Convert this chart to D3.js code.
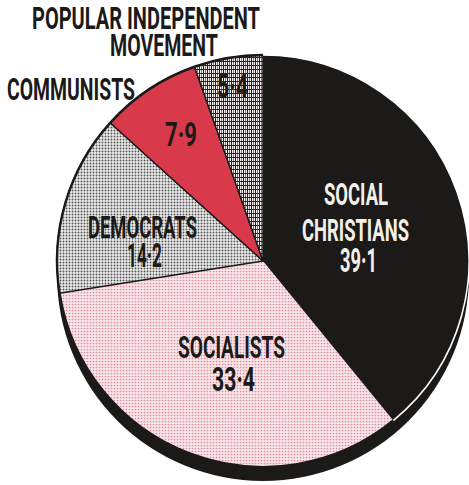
<!DOCTYPE html>
<html>
<head>
<meta charset="utf-8">
<script src="https://cdn.jsdelivr.net/npm/d3@7/dist/d3.min.js"></script>
<style>
  html, body { margin: 0; padding: 0; background: #ffffff; }
  svg { display: block; }
  text { font-family: "Roboto", "Liberation Sans Narrow", "DejaVu Sans Condensed", sans-serif; font-weight: 700; }
</style>
</head>
<body>
<svg id="chart" width="469" height="485"></svg>
<script>
// Vote shares by party (per cent)
const parties = ["SOCIAL CHRISTIANS", "SOCIALISTS", "DEMOCRATS", "COMMUNISTS", "POPULAR INDEPENDENT MOVEMENT"];
const shares = [39.1, 33.4, 14.2, 7.9, 5.4];

// How each party's name is broken into lines
const nameLines = [
  ["SOCIAL", "CHRISTIANS"],
  ["SOCIALISTS"],
  ["DEMOCRATS"],
  ["COMMUNISTS"],
  ["POPULAR INDEPENDENT", "MOVEMENT"]
];

// Slice fills and text colours
const fills = ["#1b1a18", "url(#pinkTone)", "url(#greyTone)", "#d83a4b", "url(#crossHatch)"];
const inkOnSlice = ["#f3f0ea", "#1b1a18", "#1b1a18", "#1b1a18", "#1b1a18"];

// Label placement: [left, right, baseline] for each line (names, then value)
const labelBoxes = [
  { name: [[324, 388, 205], [302, 409, 241]], value: [340, 377, 272], nameInside: true },
  { name: [[178, 285, 358]], value: [212, 255, 391], nameInside: true },
  { name: [[88, 197, 238]], value: [127, 162, 267], nameInside: true },
  { name: [[7, 135, 100]], value: [165, 197, 146], nameInside: false },
  { name: [[32, 260, 29], [110, 218, 56]], value: [217, 248, 98], nameInside: false }
];

const svg = d3.select("#chart");
const cx = 263, cy = 261, r = 206;
const nameSize = 31, valueSize = 33;

// Halftone and hatch textures
const defs = svg.append("defs");
const pink = defs.append("pattern").attr("id", "pinkTone")
  .attr("patternUnits", "userSpaceOnUse").attr("width", 3).attr("height", 3);
pink.append("rect").attr("width", 3).attr("height", 3).attr("fill", "#f8e6e9");
pink.append("circle").attr("cx", 1.5).attr("cy", 1.5).attr("r", 0.85).attr("fill", "#d88b9a");

const grey = defs.append("pattern").attr("id", "greyTone")
  .attr("patternUnits", "userSpaceOnUse").attr("width", 3).attr("height", 3);
grey.append("rect").attr("width", 3).attr("height", 3).attr("fill", "#ececec");
grey.append("circle").attr("cx", 1.5).attr("cy", 1.5).attr("r", 0.95).attr("fill", "#555555");

const hatch = defs.append("pattern").attr("id", "crossHatch")
  .attr("patternUnits", "userSpaceOnUse").attr("width", 4).attr("height", 4);
hatch.append("rect").attr("width", 4).attr("height", 4).attr("fill", "#f7f1f1");
hatch.append("rect").attr("x", 2).attr("y", 0).attr("width", 1).attr("height", 4).attr("fill", "#d8505f");
hatch.append("rect").attr("x", 0).attr("y", 0).attr("width", 4).attr("height", 1).attr("fill", "#2a2222");
hatch.append("rect").attr("x", 0).attr("y", 0).attr("width", 1).attr("height", 4).attr("fill", "#2a2222");

const pie = d3.pie().sort(null).value(d => d).startAngle(0).endAngle(2 * Math.PI);
const arcs = pie(shares);
const arc = d3.arc().innerRadius(0).outerRadius(r);
const outerEdge = d3.arc().innerRadius(r).outerRadius(r);

const g = svg.append("g").attr("transform", `translate(${cx},${cy})`);

// Thickness of the disc, visible below its lower edge
g.append("circle").attr("cx", 0).attr("cy", 14).attr("r", r).attr("fill", "#1b1a18");

// Slices
g.selectAll("path.slice").data(arcs).join("path")
  .attr("class", "slice")
  .attr("d", arc)
  .attr("fill", (d, i) => fills[i])
  .attr("stroke", (d, i) => i === 0 || i === 1 ? "none" : "#1b1a18")
  .attr("stroke-width", 1.4)
  .attr("stroke-linejoin", "round");

// Rim line along the circumference
g.selectAll("path.rim").data(arcs).join("path")
  .attr("class", "rim")
  .attr("d", d => outerEdge(d))
  .attr("fill", "none")
  .attr("stroke", (d, i) => i === 0 ? "#ffffff" : "#1b1a18")
  .attr("stroke-width", (d, i) => i === 0 ? 1.6 : 2.4);

// Labels
const fmt = v => d3.format(".1f")(v).replace(".", "\u00b7");

function drawLine(text, box, color, size) {
  svg.append("text")
    .attr("x", box[0])
    .attr("y", box[2])
    .attr("font-size", size)
    .attr("fill", color)
    .attr("textLength", box[1] - box[0])
    .attr("lengthAdjust", "spacingAndGlyphs")
    .text(text);
}

shares.forEach((v, i) => {
  const lb = labelBoxes[i];
  const nameColor = lb.nameInside ? inkOnSlice[i] : "#1b1a18";
  nameLines[i].forEach((line, j) => drawLine(line, lb.name[j], nameColor, nameSize));
  drawLine(fmt(v), lb.value, inkOnSlice[i], valueSize);
});
</script>
</body>
</html>
